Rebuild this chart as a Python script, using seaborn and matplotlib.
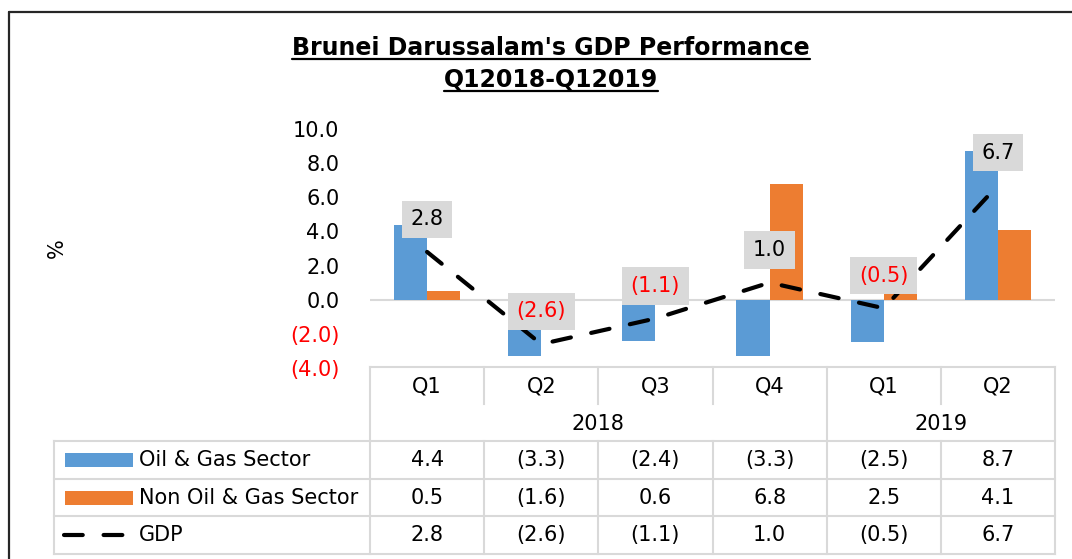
import numpy as np
import pandas as pd
import seaborn as sns
import matplotlib
import matplotlib.pyplot as plt
from matplotlib.patches import Rectangle

matplotlib.use('Agg')

# chart data
periods = ["Q1 2018", "Q2 2018", "Q3 2018", "Q4 2018", "Q1 2019", "Q2 2019"]
quarters = ["Q1", "Q2", "Q3", "Q4", "Q1", "Q2"]
years = ["2018", "2019"]
year_spans = [4, 2]
oil_gas = [4.4, -3.3, -2.4, -3.3, -2.5, 8.7]
non_oil_gas = [0.5, -1.6, 0.6, 6.8, 2.5, 4.1]
gdp = [2.8, -2.6, -1.1, 1.0, -0.5, 6.7]
series_names = ["Oil & Gas Sector", "Non Oil & Gas Sector", "GDP"]
y_ticks = [-4, -2, 0, 2, 4, 6, 8, 10]

BLUE = '#5B9BD5'
ORANGE = '#ED7D31'
GRID = '#D9D9D9'
RED = '#FF0000'
FS = 15

sns.set_style('white')
plt.rcParams['font.family'] = ['DejaVu Sans']
plt.rcParams['text.color'] = 'black'
plt.rcParams['ytick.color'] = 'black'


def fmt(v):
    return f"({abs(v):.1f})" if v < 0 else f"{v:.1f}"


df = pd.DataFrame({
    'period': periods * 2,
    'value': oil_gas + non_oil_gas,
    'series': [series_names[0]] * len(periods) + [series_names[1]] * len(periods),
})

W, H = 1072, 559
fig = plt.figure(figsize=(W / 100, H / 100), dpi=100)

# background layer in pixel coordinates for table and frame
tab = fig.add_axes([0, 0, 1, 1], zorder=0)
tab.set_xlim(0, W)
tab.set_ylim(H, 0)
tab.axis('off')

# main plot area
ax = fig.add_axes([370 / W, 1 - 368 / H, 685 / W, 239 / H], zorder=1)
ax.patch.set_alpha(0)
ax.axhline(0, color=GRID, lw=1.5, zorder=1)
sns.barplot(data=df, x='period', y='value', hue='series',
            palette=[BLUE, ORANGE], width=0.58, saturation=1,
            linewidth=0, legend=False, ax=ax, zorder=2)
sns.lineplot(x=np.arange(len(gdp)), y=gdp, ax=ax, color='black', lw=3,
             linestyle=(0, (4.5, 5)), dash_capstyle='round', zorder=4)
for i, v in enumerate(gdp):
    ax.annotate(fmt(v), (i, v), xytext=(0, 23.5), textcoords='offset points',
                ha='center', va='center', fontsize=FS,
                color=RED if v < 0 else 'black', zorder=6,
                bbox=dict(boxstyle='square,pad=0.42', fc=GRID, ec='none'))

ax.set_xlim(-0.5, 5.5)
ax.set_ylim(-4, 10)
ax.set_yticks(y_ticks)
ax.set_yticklabels([fmt(t) for t in y_ticks], fontsize=FS)
for lbl, t in zip(ax.get_yticklabels(), y_ticks):
    lbl.set_color(RED if t < 0 else 'black')
ax.tick_params(axis='y', length=0, pad=22)
ax.set_xticks([])
ax.set_xlabel('')
ax.set_ylabel('')
for s in ax.spines.values():
    s.set_visible(False)

fig.text(57 / W, 1 - 248 / H, '%', rotation=90, fontsize=FS,
         ha='center', va='center')

# data table
left, right = 370, 1055
cw = (right - left) / len(periods)
x_edges = [left + k * cw for k in range(len(periods) + 1)]
top, q_bot, yr_bot = 367, 404, 441
row_h = 37.7
rows_y = [yr_bot + k * row_h for k in range(4)]
lkw = dict(color=GRID, lw=1.5, solid_capstyle='projecting')

tab.plot([left, right], [top, top], **lkw)
for y in rows_y:
    tab.plot([54, right], [y, y], **lkw)
tab.plot([54, 54], [yr_bot, rows_y[-1]], **lkw)
year_breaks = np.cumsum([0] + year_spans)
for k, x in enumerate(x_edges):
    if k in year_breaks:
        tab.plot([x, x], [top, rows_y[-1]], **lkw)
    else:
        tab.plot([x, x], [top, q_bot], **lkw)
        tab.plot([x, x], [yr_bot, rows_y[-1]], **lkw)

for k, q in enumerate(quarters):
    tab.text((x_edges[k] + x_edges[k + 1]) / 2, (top + q_bot) / 2 + 1, q,
             ha='center', va='center', fontsize=FS)
for yr, a, b in zip(years, year_breaks[:-1], year_breaks[1:]):
    tab.text((x_edges[a] + x_edges[b]) / 2, (q_bot + yr_bot) / 2 + 1, yr,
             ha='center', va='center', fontsize=FS)

table_rows = [oil_gas, non_oil_gas, gdp]
for r, (name, vals) in enumerate(zip(series_names, table_rows)):
    yc = (rows_y[r] + rows_y[r + 1]) / 2
    tab.text(139, yc, name, ha='left', va='center', fontsize=FS)
    for k, v in enumerate(vals):
        tab.text((x_edges[k] + x_edges[k + 1]) / 2, yc, fmt(v),
                 ha='center', va='center', fontsize=FS)

# legend keys inside the table
for r, c in enumerate([BLUE, ORANGE]):
    yc = (rows_y[r] + rows_y[r + 1]) / 2
    tab.add_patch(Rectangle((65, yc - 7), 68, 14, color=c, lw=0))
yc = (rows_y[2] + rows_y[3]) / 2
tab.plot([64, 127], [yc, yc], color='black', lw=3,
         linestyle=(0, (4.5, 5)), dash_capstyle='round')

# chart frame
tab.plot([9, 9], [12, H], color='#262626', lw=1.6)
tab.plot([9, W], [12, 12], color='#262626', lw=1.6)

# underlined two-line title
titles = ["Brunei Darussalam's GDP Performance", "Q12018-Q12019"]
title_y = [48, 80]
texts = [fig.text(551 / W, 1 - y / H, t, fontsize=17, fontweight='bold',
                  ha='center', va='center') for t, y in zip(titles, title_y)]
fig.canvas.draw()
renderer = fig.canvas.get_renderer()
for t in texts:
    bb = t.get_window_extent(renderer)
    yl = H - (bb.y0 + 1)
    tab.plot([bb.x0, bb.x1], [yl, yl], color='black', lw=1.6)

fig.savefig('out.png', dpi=100, facecolor='white')
plt.close(fig)
